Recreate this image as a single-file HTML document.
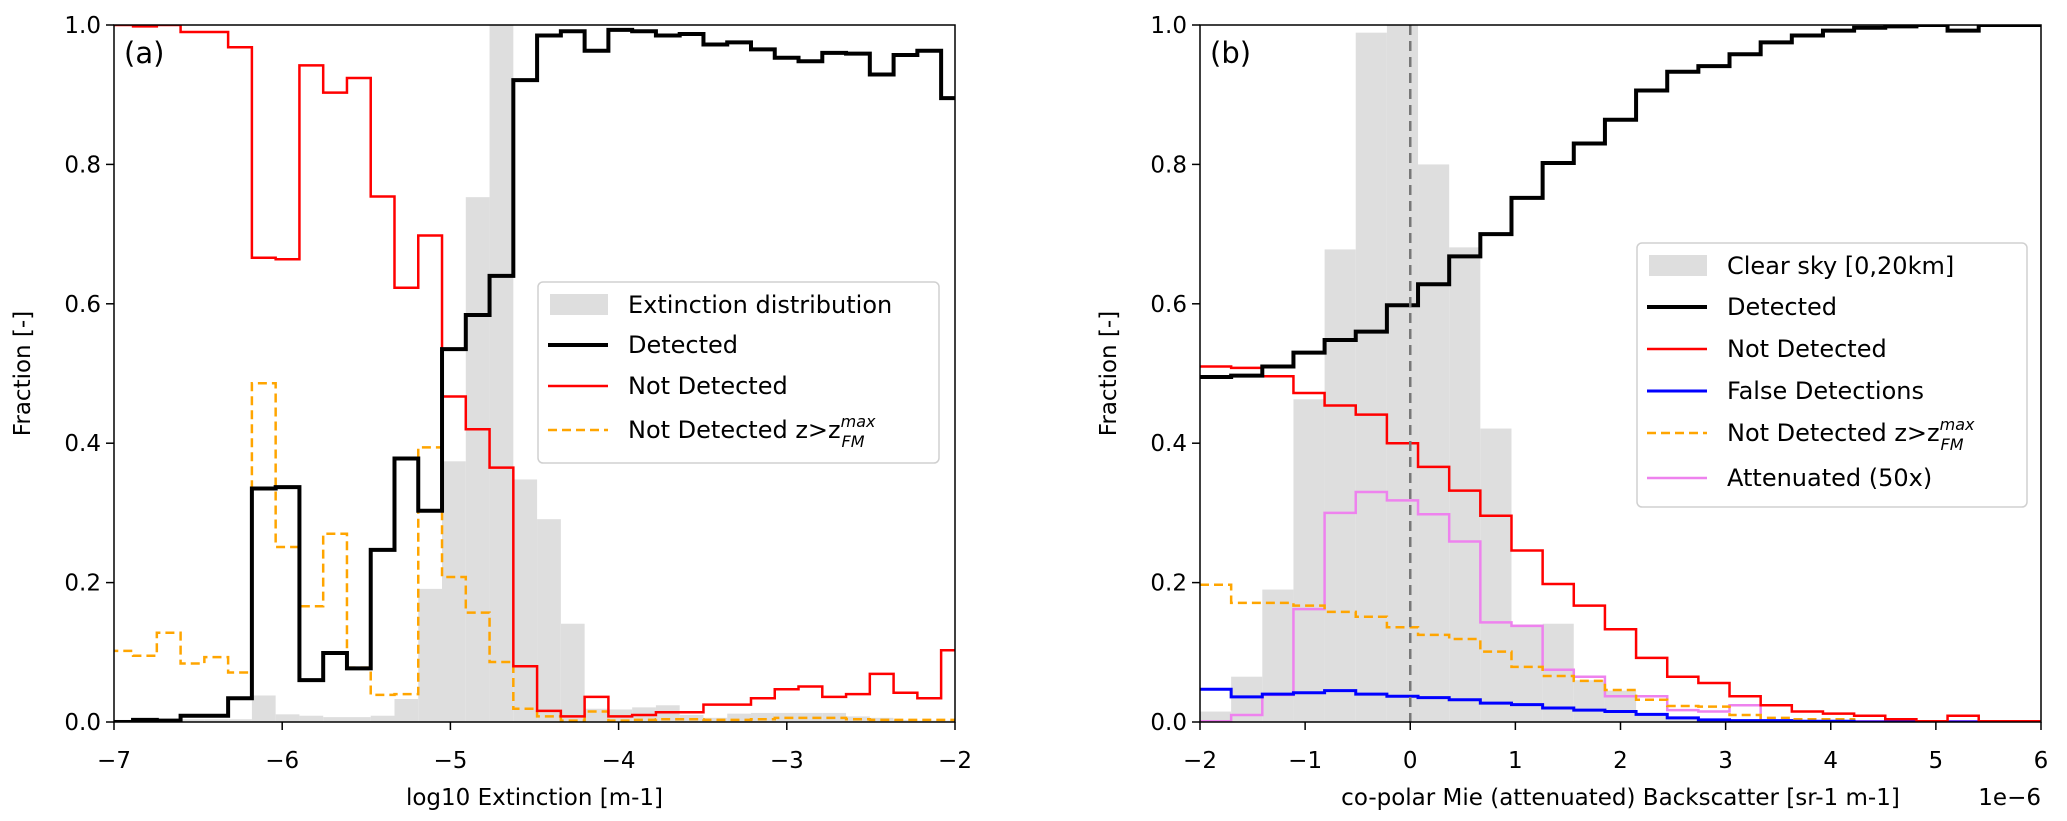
<!DOCTYPE html>
<html><head><meta charset="utf-8">
<style>
html,body{margin:0;padding:0;background:#fff;}
svg{display:block;font-family:"DejaVu Sans","Liberation Sans",sans-serif;}
</style></head>
<body>
<svg id="fig" width="2067" height="821" viewBox="0 0 2067 821" xmlns="http://www.w3.org/2000/svg"></svg>
<script>
// ---------- Panel (a) data ----------
const aBinStart = -7.028;
const aBinWidth = 0.1413;
const aExtinction = [0.003,0.003,0.005,0.004,0.004,0.004,0.038,0.011,0.009,0.007,0.007,0.009,0.033,0.191,0.374,0.753,1.0,0.348,0.291,0.141,0.019,0.018,0.021,0.024,0.010,0.006,0.012,0.013,0.013,0.013,0.013,0.008,0.006,0.003,0.002,0.002];
const aDetected = [0,0.003,0.002,0.009,0.009,0.034,0.335,0.337,0.06,0.099,0.077,0.247,0.378,0.303,0.535,0.584,0.640,0.921,0.985,0.991,0.963,0.993,0.991,0.985,0.987,0.972,0.975,0.965,0.953,0.948,0.960,0.959,0.929,0.957,0.963,0.895];
const aNotDetected = [1.0,0.998,1.0,0.990,0.990,0.968,0.666,0.664,0.942,0.903,0.924,0.754,0.623,0.698,0.467,0.420,0.365,0.080,0.016,0.008,0.036,0.008,0.010,0.014,0.014,0.025,0.025,0.034,0.047,0.051,0.036,0.040,0.069,0.042,0.034,0.103];
const aNotDetectedZ = [0.102,0.095,0.128,0.084,0.093,0.071,0.486,0.251,0.166,0.270,0.078,0.039,0.040,0.394,0.208,0.157,0.086,0.019,0.008,0.002,0.015,0.002,0.003,0.004,0.004,0.003,0.003,0.004,0.006,0.006,0.006,0.004,0.003,0.003,0.003,0.003];
const aXTicks = [-7,-6,-5,-4,-3,-2];
const aXTickLabels = ["−7","−6","−5","−4","−3","−2"];
// ---------- Panel (b) data ----------
const bBinStart = -2;
const bBinWidth = 8/27;
const bClearSky = [0.015,0.065,0.190,0.463,0.678,0.989,1.0,0.80,0.681,0.421,0.14,0.141,0.06,0.045,0.01,0.005,0.004,0.003,0.002,0.002,0.001,0.001,0.001,0,0,0,0];
const bDetected = [0.495,0.497,0.510,0.530,0.548,0.560,0.598,0.628,0.668,0.700,0.752,0.802,0.830,0.864,0.906,0.933,0.941,0.958,0.975,0.985,0.992,0.996,0.998,1.0,0.992,1.0,1.0];
const bNotDetected = [0.510,0.508,0.496,0.472,0.454,0.441,0.400,0.366,0.332,0.296,0.246,0.198,0.167,0.133,0.092,0.065,0.056,0.037,0.024,0.015,0.012,0.009,0.004,0.001,0.009,0.001,0.001];
const bFalse = [0.047,0.036,0.040,0.042,0.045,0.040,0.037,0.035,0.032,0.027,0.025,0.020,0.017,0.015,0.011,0.006,0.003,0.002,0.002,0.001,0.001,0,0,0,0,0,0];
const bNotDetectedZ = [0.197,0.171,0.171,0.167,0.158,0.151,0.136,0.125,0.119,0.101,0.079,0.066,0.059,0.046,0.032,0.023,0.022,0.010,0.006,0.004,0.004,0,0,0,0,0,0];
const bAttenuated = [0.001,0.010,0.039,0.162,0.300,0.330,0.318,0.298,0.259,0.143,0.138,0.075,0.065,0.037,0.037,0.017,0.015,0.024,0.001,0.001,0.001,0.001,0.001,0.001,0.001,0.001,0.001];
const bXTicks = [-2,-1,0,1,2,3,4,5,6];
const bXTickLabels = ["−2","−1","0","1","2","3","4","5","6"];
const yTicks = [0,0.2,0.4,0.6,0.8,1.0];
const yTickLabels = ["0.0","0.2","0.4","0.6","0.8","1.0"];

const NS = "http://www.w3.org/2000/svg";
const svg = document.getElementById('fig');
function el(tag, attrs, parent){
  const e = document.createElementNS(NS, tag);
  for (const k in attrs) e.setAttribute(k, attrs[k]);
  (parent||svg).appendChild(e);
  return e;
}
const TOP = 25, BOT = 722;
function yScale(v){ return BOT - v*(BOT-TOP); }

function panel(id, L, R, xmin, xmax, binStart, binWidth){
  const g = el('g', {});
  
  
  const clipId = 'clip-'+id;
  const cp = el('clipPath', {id: clipId}, g);
  el('rect', {x:L, y:TOP, width:R-L, height:BOT-TOP}, cp);
  const xs = v => L + (v-xmin)/(xmax-xmin)*(R-L);
  const plot = el('g', {'clip-path':'url(#'+clipId+')'}, g);
  return {g, plot, xs, L, R, binStart, binWidth};
}
function edges(p, n){ const e=[]; for(let k=0;k<=n;k++) e.push(p.binStart + k*p.binWidth); return e; }
function fillHist(p, vals, name){
  const e = edges(p, vals.length);
  vals.forEach((v,i)=>{
    const x0 = p.xs(e[i]), x1 = p.xs(e[i+1]);
    const r = el('rect', {x:x0, y:yScale(v), width:x1-x0, height:BOT-yScale(v), fill:'#dedede'}, p.plot);
    
    
  });
}
function stepLine(p, vals, color, w, dash, name){
  const e = edges(p, vals.length);
  let d = 'M'+p.xs(e[0])+','+yScale(vals[0]);
  vals.forEach((v,i)=>{
    if(i>0) d += ' V'+yScale(v);
    d += ' H'+p.xs(e[i+1]);
  });
  const path = el('path', {d, fill:'none', stroke:color, 'stroke-width':w, 'stroke-linejoin':'miter'}, p.plot);
  if(dash) path.setAttribute('stroke-dasharray', dash);
  
  
}
function axes(p, xticks, xlabels, xlabel){
  const g = p.g;
  yTicks.forEach((t,i)=>{
    const y = yScale(t);
    el('line', {x1:p.L-8, x2:p.L, y1:y, y2:y, stroke:'#000', 'stroke-width':1.5}, g);
    const tx = el('text', {x:p.L-13, y:y+8, 'font-size':23, 'text-anchor':'end', fill:'#000'}, g);
    tx.textContent = yTickLabels[i];
    
    
  });
  xticks.forEach((t,i)=>{
    const x = p.xs(t);
    el('line', {x1:x, x2:x, y1:BOT, y2:BOT+8, stroke:'#000', 'stroke-width':1.5}, g);
    const tx = el('text', {x:x, y:768, 'font-size':23, 'text-anchor':'middle', fill:'#000'}, g);
    tx.textContent = xlabels[i];
    
    
  });
  el('rect', {x:p.L, y:TOP, width:p.R-p.L, height:BOT-TOP, fill:'none', stroke:'#000', 'stroke-width':1.5}, g);
  const xl = el('text', {x:(p.L+p.R)/2, y:805, 'font-size':23, 'text-anchor':'middle'}, g);
  xl.textContent = xlabel;
  
  
  const yx = p.L-84, yy = (TOP+BOT)/2;
  const yl = el('text', {x:yx, y:yy, 'font-size':23, 'text-anchor':'middle', transform:'rotate(-90 '+yx+' '+yy+')'}, g);
  yl.textContent = 'Fraction [-]';
  
  
}
function legend(g, x, y, w, h, entries){
  const lg = el('g', {}, g);
  
  
  el('rect', {x, y, width:w, height:h, rx:5, fill:'#fff', 'fill-opacity':0.8, stroke:'#d0d0d0', 'stroke-width':1.5}, lg);
  entries.forEach(en=>{
    const eg = el('g', {}, lg);
    
    
    if(en.type==='patch') el('rect', {x:x+12, y:en.y-11, width:58, height:21, fill:'#dedede'}, eg);
    else {
      const ln = el('line', {x1:x+10, x2:x+70, y1:en.y, y2:en.y, stroke:en.color, 'stroke-width':en.w}, eg);
      if(en.dash) ln.setAttribute('stroke-dasharray', en.dash);
    }
    const t = el('text', {x:x+90, y:en.y+8, 'font-size':24}, eg);
    if(en.z){
      t.appendChild(document.createTextNode('Not Detected z>z'));
      const sup = el('tspan', {'font-size':16, 'font-style':'italic', dy:-11}, t); sup.textContent='max';
      const sub = el('tspan', {'font-size':16, 'font-style':'italic', dx:-34, dy:20}, t); sub.textContent='FM';
    } else t.textContent = en.label;
  });
}

// Panel a
const pa = panel('panel-a', 114, 955, -7, -2, aBinStart, aBinWidth);
fillHist(pa, aExtinction, 'extinction-distribution');
stepLine(pa, aNotDetectedZ, '#ffa500', 2.5, '9,5', 'not-detected-z-line');
stepLine(pa, aNotDetected, '#ff0000', 2.5, null, 'not-detected-line');
stepLine(pa, aDetected, '#000000', 4, null, 'detected-line');
axes(pa, aXTicks, aXTickLabels, 'log10 Extinction [m-1]');
const la = el('text', {x:124, y:63, 'font-size':29}, pa.g); la.textContent='(a)';


legend(pa.g, 538, 282, 401, 181, [
  {type:'patch', y:305, label:'Extinction distribution'},
  {type:'line', y:345, color:'#000', w:4, label:'Detected'},
  {type:'line', y:386, color:'#ff0000', w:2.5, label:'Not Detected'},
  {type:'line', y:430, color:'#ffa500', w:2.5, dash:'9,5', z:true}
]);

// Panel b
const pb = panel('panel-b', 1200, 2041, -2, 6, bBinStart, bBinWidth);
fillHist(pb, bClearSky, 'clear-sky');
stepLine(pb, bAttenuated, '#ee82ee', 2.5, null, 'attenuated-line');
stepLine(pb, bNotDetectedZ, '#ffa500', 2.5, '9,5', 'not-detected-z-line');
stepLine(pb, bFalse, '#0000ff', 3, null, 'false-detections-line');
stepLine(pb, bNotDetected, '#ff0000', 2.5, null, 'not-detected-line');
stepLine(pb, bDetected, '#000000', 4, null, 'detected-line');
const zx = pb.xs(0);
const zl = el('line', {x1:zx, x2:zx, y1:TOP, y2:BOT, stroke:'#777', 'stroke-width':2.5, 'stroke-dasharray':'10,6'}, pb.g);


axes(pb, bXTicks, bXTickLabels, 'co-polar Mie (attenuated) Backscatter [sr-1 m-1]');
const lb = el('text', {x:1210, y:63, 'font-size':29}, pb.g); lb.textContent='(b)';


const sc = el('text', {x:2041, y:805, 'font-size':23, 'text-anchor':'end'}, pb.g); sc.textContent='1e−6';


legend(pb.g, 1637, 243, 390, 264, [
  {type:'patch', y:266, label:'Clear sky [0,20km]'},
  {type:'line', y:307, color:'#000', w:4, label:'Detected'},
  {type:'line', y:349, color:'#ff0000', w:2.5, label:'Not Detected'},
  {type:'line', y:391, color:'#0000ff', w:3, label:'False Detections'},
  {type:'line', y:433, color:'#ffa500', w:2.5, dash:'9,5', z:true},
  {type:'line', y:478, color:'#ee82ee', w:2.5, label:'Attenuated (50x)'}
]);
</script>
</body></html>
